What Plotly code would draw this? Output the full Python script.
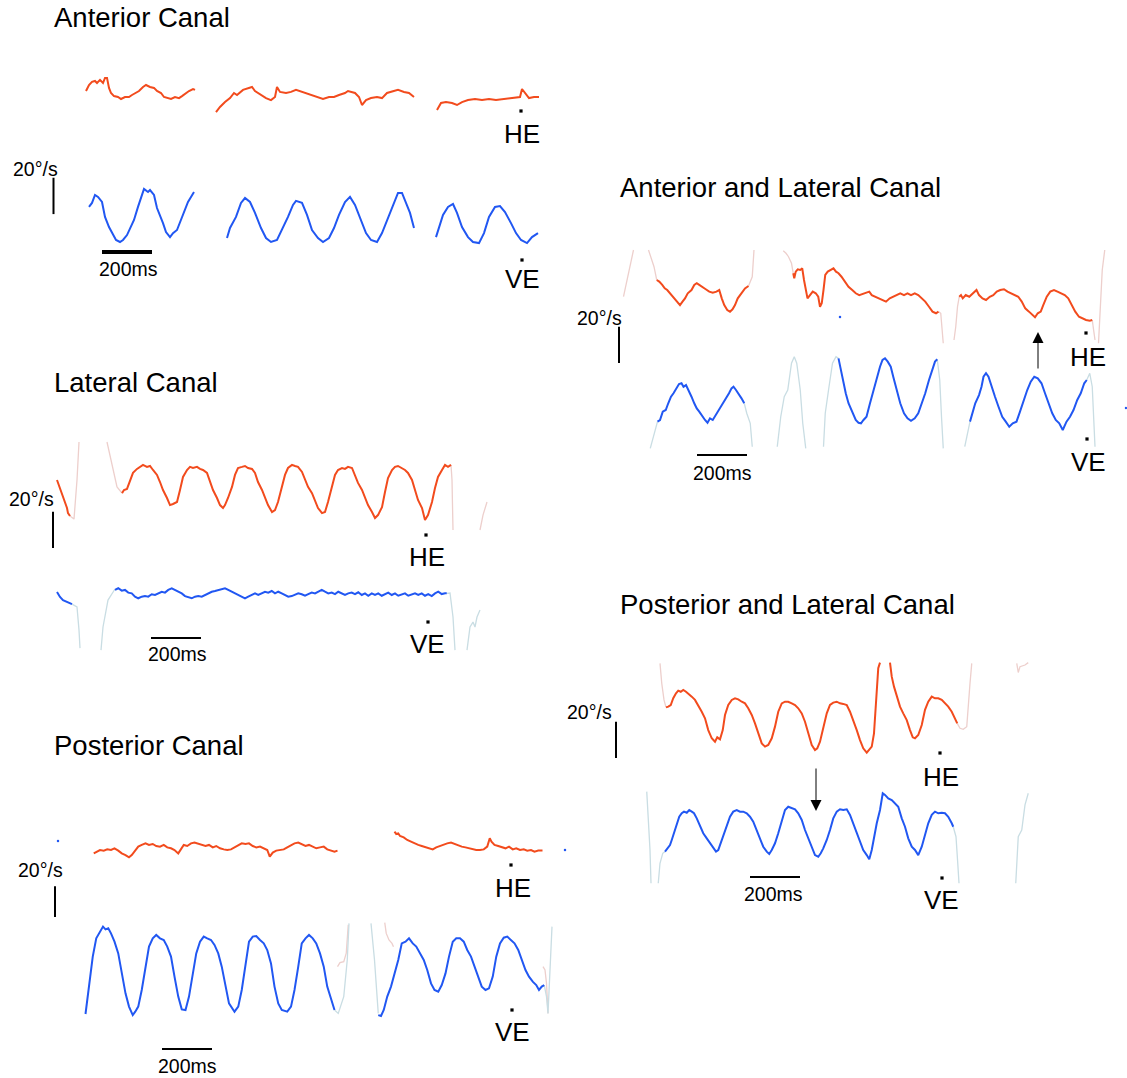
import plotly.graph_objects as go

W, H = 1127, 1078
FONT = "Liberation Sans, Arial, Helvetica, sans-serif"
HE_COL = "#F24B1D"
VE_COL = "#2157F2"
HE_PALE = "#EDCFCC"
VE_PALE = "#C9DDE3"

# ---------------- data: time (ms) and eye velocity (deg/s) ----------------
# Anterior Canal
ant_he_t = [
    [24, 36, 48, 60, 68, 80, 92, 100, 108, 116, 124, 136, 152, 164, 180, 196, 208, 224, 236, 252,
     264, 280, 296, 308, 324, 336, 352, 364, 380, 396, 408, 424, 436, 452, 460],
    [544, 560, 580, 600, 616, 628, 652, 672, 688, 700, 724, 744, 764, 780, 788, 800, 824, 844, 864, 888,
     908, 928, 952, 972, 996, 1016, 1036, 1060, 1072, 1088, 1100, 1116, 1128, 1144, 1164, 1188, 1208,
     1228, 1252, 1272, 1296, 1316, 1336],
    [1428, 1444, 1464, 1488, 1508, 1528, 1552, 1580, 1608, 1636, 1664, 1696, 1724, 1744, 1760, 1768,
     1780, 1796, 1816, 1836],
]
ant_he_v = [
    [2.2, 5.5, 7.2, 7.7, 6.6, 8.3, 6.6, 9.4, 9.4, 3.9, 1.1, -0.6, -1.1, -2.2, -1.1, -1.1, 0, 1.1, 2.2, 4.4,
     5.5, 4.4, 3.9, 2.2, 1.1, -1.1, -1.7, -2.2, -1.1, -1.7, -0.6, 1.1, 2.2, 3.3, 2.8],
    [-9.4, -6.6, -3.9, -1.7, 1.1, 0, 2.8, 3.9, 4.4, 2.2, 0, -1.7, -2.8, -1.1, 4.4, 1.7, 1.1, 1.7, 2.8, 1.7,
     1.1, 0, -1.1, -2.2, -1.1, -1.1, 0, 1.1, 2.2, 1.7, 1.1, -1.1, -5.5, -2.8, -1.7, -1.1, -1.7,
     1.1, 2.2, 2.8, 1.7, 1.1, -1.1],
    [-8.3, -4.4, -3.9, -4.4, -5.5, -3.9, -2.8, -2.2, -2.8, -2.2, -2.8, -2.2, -1.7, -1.7, -1.1, 3.3,
     1.1, -1.7, -1.1, -1.1],
]
ant_ve_t = [
    [36, 48, 60, 72, 88, 100, 116, 128, 144, 160, 172, 188, 200, 216, 232, 244, 256, 272, 280, 296,
     308, 332, 344, 360, 372, 388, 400, 416, 432, 444, 456],
    [588, 600, 624, 644, 660, 680, 700, 724, 744, 764, 788, 808, 832, 852, 864, 888, 908, 928, 952, 972,
     996, 1016, 1036, 1060, 1080, 1100, 1124, 1144, 1164, 1188, 1208, 1228, 1252, 1272, 1288, 1300,
     1320, 1336],
    [1424, 1436, 1452, 1472, 1492, 1508, 1528, 1552, 1572, 1596, 1616, 1636, 1660, 1680, 1700, 1724,
     1744, 1764, 1788, 1808, 1832],
]
ant_ve_v = [
    [6.1, 8.3, 12.7, 11.6, 8.8, 0.6, -5.0, -8.3, -12.1, -13.2, -12.1, -9.4, -5.5, -1.1, 6.1, 11.6, 16.0,
     14.3, 15.4, 12.7, 5.5, -2.8, -7.7, -10.5, -8.3, -6.6, -2.2, 2.8, 8.8, 11.6, 14.3],
    [-11.0, -5.5, 0.6, 8.3, 11.0, 8.8, 2.8, -5.5, -11.0, -13.2, -12.1, -6.6, 0.6, 7.2, 9.4, 8.3, 1.7,
     -6.6, -11.0, -13.2, -11.0, -5.5, 1.7, 8.8, 11.6, 7.2, -1.1, -8.3, -12.1, -13.2, -8.3, -1.1, 7.2,
     13.8, 13.8, 9.9, 2.8, -5.5],
    [-10.5, -5.0, 1.7, 6.1, 7.7, 2.8, -5.0, -10.5, -13.2, -13.8, -8.3, 0.6, 6.1, 6.6, 3.3, -2.8, -8.3,
     -12.1, -13.8, -10.5, -8.3],
]

# Lateral Canal
lat_he_t = [
    [-92, -80, -68, -52, -48, -40],
    [168, 176, 188, 200, 212, 228, 240, 252, 268, 280, 292, 308, 320, 332, 348, 360, 372, 388, 400, 412,
     428, 440, 452, 468, 480, 492, 508, 520, 532, 548, 560, 572, 580, 592, 608, 620, 632, 648, 660, 672,
     688, 700, 712, 728, 740, 752, 768, 780, 792, 808, 820, 832, 848, 860, 872, 888, 900, 912, 928, 940,
     952, 968, 980, 992, 1008, 1020, 1032, 1048, 1060, 1072, 1088, 1100, 1112, 1128, 1140, 1152, 1168,
     1180, 1192, 1208, 1220, 1232, 1248, 1260, 1272, 1288, 1300, 1312, 1328, 1340, 1352, 1368, 1380,
     1392, 1408, 1420, 1432, 1448, 1460, 1472, 1484],
]
lat_he_v = [
    [5.5, 1.1, -4.4, -9.9, -12.7, -14.3],
    [-1.7, 0, 0.6, 5.5, 9.4, 11.6, 12.7, 13.8, 12.7, 13.2, 11.0, 8.3, 4.4, 0, -4.4, -8.3, -7.7, -6.6, 0, 7.2,
     11.0, 12.7, 12.1, 12.7, 11.6, 11.0, 9.4, 4.4, 0, -4.4, -8.3, -9.9, -8.3, -4.4, 1.7, 8.3, 12.1, 12.7,
     13.2, 12.1, 11.6, 9.4, 4.4, 0, -4.4, -8.3, -12.1, -11.0, -6.6, 1.1, 8.3, 12.1, 13.8, 13.2, 12.7, 9.9,
     5.5, 1.7, -1.7, -5.5, -9.9, -12.7, -12.1, -6.6, 1.7, 8.3, 11.0, 12.1, 11.6, 12.7, 12.1, 8.3, 3.9, 0,
     -3.9, -8.3, -12.1, -15.4, -13.8, -9.4, -1.1, 6.6, 11.0, 12.7, 13.2, 12.1, 11.0, 9.4, 5.5, 0, -5.5,
     -9.9, -16.5, -13.8, -6.6, 1.1, 7.2, 11.0, 13.8, 12.7, 13.8],
]
lat_he_fast_t = [[-40, -24, -12, -4], [108, 128, 148, 168], [1484, 1488, 1492], [1600, 1612, 1628]]
lat_he_fast_v = [[-14.3, -16.0, 5.5, 26.4], [26.4, 14.9, 1.7, -1.7], [13.8, 5.5, -22.0], [-22.0, -13.8, -6.6]]
lat_ve_t = [
    [-92, -80, -68, -52, -40, -32],
    [140, 153, 167, 180, 193, 207, 220, 233, 247, 260, 273, 287, 300, 313, 327, 340, 353, 367, 380, 393,
     407, 420, 433, 447, 460, 473, 487, 500, 513, 527, 540, 553, 567, 580, 593, 607, 620, 633, 647, 660,
     673, 687, 700, 713, 727, 740, 753, 767, 780, 793, 807, 820, 833, 847, 860, 873, 887, 900, 913, 927,
     940, 953, 967, 980, 993, 1007, 1020, 1033, 1047, 1060, 1073, 1087, 1100, 1113, 1127, 1140, 1153,
     1167, 1180, 1193, 1207, 1220, 1233, 1247, 1260, 1273, 1287, 1300, 1313, 1327, 1340, 1353, 1367,
     1380, 1393, 1407, 1420, 1433, 1447, 1460, 1467],
]
lat_ve_v = [
    [0.6, -2.2, -3.9, -5.0, -5.5, -6.1],
    [1.7, 2.6, 1.3, 1.7, 0.2, -0.2, -2.0, -2.9, -2.0, -1.7, -2.0, -0.7, -1.1, -0.2, 0.7, 0.2, 1.7, 2.6, 1.7,
     0.7, -0.2, -1.7, -2.4, -2.9, -2.0, -1.7, -2.0, -1.1, -0.2, 0.7, 1.1, 1.7, 2.0, 2.6, 1.7, 0.7, -0.2,
     -1.1, -2.0, -2.9, -2.0, -1.1, -0.2, -1.1, -0.2, 0.7, 0.2, 1.1, -0.2, 0.7, -0.2, -1.1, -2.0, -1.7, -1.1,
     -0.2, -0.7, -1.5, -0.6, 0.2, -0.2, 0.7, 1.7, 0.7, -0.2, 0.2, -0.6, 0.7, -0.2, -1.1, -0.2, 0.2, -0.6,
     0.4, -1.1, -0.2, -1.5, -0.2, -1.1, -0.2, -1.5, -0.6, 0.2, -1.1, -0.2, -1.5, -0.7, -0.2, -1.5, -0.6,
     -0.2, -1.1, -0.2, -1.5, -0.6, -1.7, -0.2, 0.7, -0.6, -0.2, -0.2],
]
lat_ve_fast_t = [[-32, -12, -4, 0], [84, 92, 112, 140], [1467, 1480, 1492, 1500],
                 [1548, 1560, 1572, 1580, 1588, 1600]]
lat_ve_fast_v = [[-6.1, -7.7, -20.4, -30.3], [-31.4, -18.7, -3.9, 2.2], [-0.2, 0, -13.2, -31.4],
                 [-31.4, -18.7, -16.0, -18.7, -13.2, -9.4]]

# Posterior Canal
post_he_t = [
    [55, 65, 80, 95, 109, 124, 138, 153, 167, 182, 196, 207, 218, 233, 247, 262, 276, 291, 305, 320,
     335, 349, 364, 378, 393, 403, 415, 429, 444, 458, 473, 487, 502, 516, 531, 545, 560, 575, 589, 604,
     618, 633, 647, 662, 676, 691, 705, 720, 735, 749, 759, 771, 785, 800, 815, 829, 844, 858, 873, 887,
     902, 916, 931, 945, 960, 975, 989, 1004, 1018, 1030],
    [1258, 1265, 1273, 1280, 1295, 1309, 1324, 1338, 1353, 1367, 1382, 1396, 1411, 1425, 1440, 1455,
     1469, 1484, 1498, 1513, 1527, 1542, 1556, 1571, 1585, 1600, 1615, 1629, 1639, 1646, 1658, 1673,
     1687, 1702, 1716, 1731, 1745, 1760, 1775, 1789, 1804, 1818, 1833, 1850],
]
post_he_v = [
    [-3.5, -2.4, -1.3, -1.7, -0.9, -1.3, -0.2, -1.7, -3.5, -4.6, -6.1, -4.6, -2.4, 0.9, 2.0, 3.0, 2.0, 2.6,
     1.3, 0.9, 2.0, 0.4, -0.2, -1.3, -3.5, -0.9, 2.0, 1.3, 3.0, 3.5, 2.6, 2.0, 1.3, 2.0, 0.4, 1.3, -0.2,
     -0.9, -1.3, -0.9, 0.4, 2.0, 3.0, 2.6, 3.0, 1.3, 0.4, 0.9, -0.2, -1.3, -5.6, -3.0, -1.7, -1.3, -0.9,
     0.4, 2.0, 3.0, 3.5, 2.6, 1.3, 2.0, 0.9, -0.2, 0.4, 0.9, -0.9, -1.7, -2.4, -1.7],
    [10.6, 9.1, 9.5, 7.8, 6.9, 5.2, 4.1, 3.0, 2.0, 1.3, 0.4, -0.2, -0.9, 0.4, 1.3, 2.6, 3.0, 3.5, 2.6, 2.0,
     0.9, 0.4, -0.2, -0.9, -1.3, -1.3, -0.9, 0.9, 6.3, 4.1, 2.0, 1.3, 0.4, -0.2, 0.9, -0.9, -0.2, -1.3,
     -0.9, -1.7, -1.3, -2.4, -1.7, -1.7],
]
post_he_fast_t = [[1030, 1040, 1055, 1065, 1073], [1219, 1225, 1236, 1248, 1254], [1852, 1860, 1866, 1872]]
post_he_fast_v = [[-77.1, -74.5, -73.9, -68.3, -50.0], [-48.5, -55.5, -59.8, -62.0, -64.2],
                  [-77.1, -79.3, -88.0, -107.5]]
post_ve_t = [
    [22, 36, 51, 65, 80, 92, 102, 113, 124, 138, 153, 167, 182, 196, 211, 221, 233, 247, 262, 276,
     291, 305, 320, 335, 349, 364, 378, 393, 407, 422, 436, 451, 465, 480, 495, 509, 524, 538, 553, 567,
     582, 596, 618, 633, 647, 662, 676, 691, 705, 720, 735, 749, 764, 778, 793, 807, 829, 844, 858, 873,
     887, 902, 916, 931, 945, 960, 975, 989, 1004, 1018],
    [1193, 1204, 1215, 1229, 1244, 1258, 1273, 1287, 1302, 1316, 1331, 1345, 1360, 1375, 1389, 1404,
     1418, 1433, 1447, 1462, 1476, 1491, 1505, 1520, 1535, 1549, 1564, 1578, 1593, 1607, 1622, 1636,
     1651, 1665, 1680, 1695, 1709, 1724, 1738, 1753, 1767, 1782, 1796, 1811, 1825, 1836, 1847, 1857],
]
post_ve_v = [
    [-35.1, -15.2, 2.2, 14.1, 18.4, 21.7, 19.9, 20.6, 17.3, 11.9, 4.3, -8.7, -21.7, -30.3, -35.8, -33.6,
     -30.3, -19.5, -4.3, 8.7, 14.1, 16.3, 14.1, 13.0, 8.7, 2.2, -10.8, -23.8, -32.1, -32.5, -23.8, -8.7,
     4.3, 11.9, 15.2, 14.1, 13.0, 9.8, 4.3, -4.3, -17.3, -28.2, -33.6, -30.3, -19.5, -2.2, 11.9, 15.2, 15.6,
     13.0, 10.8, 6.5, -2.2, -17.3, -28.2, -32.5, -33.6, -30.3, -19.5, -4.3, 10.8, 14.1, 16.3, 14.1, 10.8,
     4.3, -4.3, -17.3, -26.0, -32.5],
    [-35.8, -36.4, -32.5, -23.8, -17.3, -8.7, 0, 10.8, 11.9, 14.1, 10.8, 8.7, 4.3, 0, -6.5, -15.2, -19.5,
     -20.6, -16.3, -8.7, 2.2, 11.9, 14.1, 14.1, 11.9, 6.5, 2.2, -4.3, -10.8, -17.3, -19.5, -18.4, -10.8,
     2.2, 10.8, 14.5, 15.2, 13.0, 10.8, 6.5, 0, -6.5, -10.8, -14.1, -16.3, -19.5, -17.3, -16.3],
]
post_ve_fast_t = [[1018, 1033, 1055, 1069, 1076], [1164, 1178, 1193], [1857, 1866, 1872, 1880, 1888]]
post_ve_fast_v = [[-32.5, -34.7, -23.8, 0, 23.8], [23.8, 0, -34.7], [-16.3, -23.8, -34.7, 0, 21.7]]
post_specks_t = [-88, 1940]
post_specks_v = [4.6, -1.3]

# Anterior and Lateral Canal
al_he_t = [
    [27, 37, 49, 59, 69, 80, 94, 109, 120, 130, 140, 151, 166, 177, 187, 197, 209, 223, 237, 251,
     266, 277, 287, 297, 309, 320, 330, 340, 351, 366, 380, 394],
    [573, 577, 583, 591, 601, 609, 616, 623, 630, 640, 651, 663, 673, 680, 687, 694, 701, 711, 723, 734,
     744, 754, 766, 780, 794, 809, 823, 837, 851, 866, 877, 887, 901, 916, 930, 944, 959, 973, 987, 1001,
     1016, 1030, 1044, 1059, 1073, 1087, 1101, 1116, 1130, 1144, 1154],
    [1237, 1244, 1251, 1263, 1277, 1291, 1306, 1316, 1330, 1344, 1359, 1373, 1387, 1401, 1416, 1430,
     1444, 1459, 1473, 1487, 1501, 1516, 1530, 1540, 1551, 1563, 1573, 1587, 1601, 1616, 1630, 1644,
     1659, 1673, 1687, 1701, 1716, 1730, 1744, 1759, 1769],
]
al_he_v = [
    [5.5, 4.6, 2.8, 0.9, 0, -1.8, -3.7, -6.4, -8.3, -6.4, -4.6, -1.8, 0, 2.8, 3.7, 2.8, 1.5, 0.4, -0.9, -1.5,
     -0.9, 0, -4.6, -8.3, -11.0, -11.9, -10.6, -8.3, -4.6, -1.8, 0.9, 2.2],
    [9.2, 6.4, 10.1, 11.4, 11.0, 11.9, 5.5, -0.9, -4.6, -2.8, -0.9, -1.8, -3.7, -9.2, -7.3, 0, 8.3, 10.1,
     11.0, 11.9, 10.1, 9.2, 7.3, 4.6, 1.8, 0, -1.8, -2.8, -2.2, -1.8, -0.9, -2.8, -3.7, -4.6, -5.5, -6.4,
     -4.6, -3.7, -2.8, -1.8, -2.8, -1.8, -2.8, -1.8, -2.8, -4.6, -6.4, -9.2, -11.9, -12.8, -11.9],
    [-3.7, -2.8, -4.6, -2.8, -3.7, -1.8, 0, -2.8, -4.6, -5.5, -3.7, -2.8, -0.9, 0, 0.4, -0.9, -1.8, -2.8,
     -3.7, -6.4, -10.1, -11.9, -13.8, -15.0, -12.8, -11.9, -8.3, -3.7, -0.9, 0, -0.9, -1.8, -2.8, -4.6,
     -8.3, -11.9, -14.7, -15.6, -16.5, -16.9, -16.5],
]
al_he_fast_t = [[-106, -91, -77, -66], [-6, 16, 27], [394, 409, 416], [533, 544, 554, 566, 573],
                [1154, 1163, 1173], [1216, 1223, 1230, 1237], [1769, 1776, 1780], [1794, 1801, 1809, 1819]]
al_he_fast_v = [[-3.7, 5.5, 14.7, 22.0], [22.0, 12.8, 5.5], [2.2, 7.3, 22.0], [21.6, 20.2, 18.3, 14.7, 9.2],
                [-11.9, -12.8, -29.3], [-27.5, -20.2, -9.2, -3.7], [-16.5, -22.0, -27.5],
                [-29.3, -12.8, 11.0, 22.0]]
al_ve_t = [
    [30, 40, 51, 63, 73, 84, 94, 106, 116, 126, 134, 144, 154, 166, 177, 187, 197, 209, 220, 230,
     240, 251, 263, 273, 283, 294, 306, 316, 326, 334, 344, 354, 366, 377],
    [754, 763, 773, 783, 794, 809, 823, 834, 844, 854, 866, 880, 894, 909, 920, 930, 940, 951, 963, 973,
     987, 1001, 1016, 1030, 1044, 1059, 1073, 1087, 1101, 1116, 1130, 1140, 1149],
    [1280, 1291, 1301, 1316, 1326, 1334, 1344, 1354, 1366, 1380, 1394, 1409, 1423, 1437, 1451, 1466,
     1480, 1494, 1509, 1523, 1537, 1551, 1566, 1580, 1594, 1609, 1623, 1637, 1651, 1666, 1680, 1694,
     1709, 1723, 1737, 1747],
]
al_ve_v = [
    [-22.9, -22.0, -17.4, -16.5, -12.8, -9.2, -7.3, -4.6, -2.2, -1.8, -3.7, -2.8, -5.5, -9.2, -12.8, -15.6,
     -17.4, -20.2, -22.0, -23.5, -21.1, -22.0, -19.3, -17.4, -14.7, -11.9, -9.2, -7.3, -4.6, -3.7, -5.5,
     -7.3, -10.1, -12.8],
    [11.9, 5.5, -1.8, -7.3, -12.8, -17.4, -22.0, -23.5, -23.8, -22.0, -20.2, -12.8, -5.5, 1.8, 7.3, 11.0,
     11.9, 10.1, 7.3, 1.8, -5.5, -12.8, -18.3, -21.1, -22.4, -21.1, -18.3, -12.8, -7.3, 0, 5.5, 10.1, 11.4],
    [-22.9, -17.4, -12.8, -8.3, -3.7, 1.8, 3.7, 1.8, -3.7, -9.2, -14.7, -20.2, -22.9, -25.7, -23.8, -22.9,
     -17.4, -11.0, -5.5, -0.9, 1.8, 0.9, -1.8, -7.3, -12.8, -18.3, -22.0, -23.8, -27.5, -22.9, -20.2,
     -16.5, -11.0, -7.3, -1.8, 0],
]
al_ve_fast_t = [[1, 16, 30], [377, 387, 401, 409], [509, 523, 537, 551, 566, 577, 587, 601, 611, 623],
                [694, 701, 716, 730, 744, 754], [1149, 1159, 1166, 1173], [1259, 1269, 1280],
                [1747, 1759, 1769, 1773, 1780]]
al_ve_fast_v = [[-37.6, -29.3, -22.9], [-12.8, -18.3, -23.8, -36.7],
                [-36.7, -20.2, -9.2, -5.5, 9.2, 12.8, 9.2, -5.5, -23.8, -37.6],
                [-36.7, -18.3, -3.7, 9.2, 12.8, 11.9], [11.4, 0, -20.2, -37.6], [-36.7, -29.3, -22.9],
                [0, 3.7, -3.7, -20.2, -36.7]]
al_specks_t = [760, 1904]
al_specks_v = [-14.9, -64.9]

# Posterior and Lateral Canal
pl_he_t = [
    [64, 73, 83, 93, 104, 113, 123, 133, 144, 153, 167, 180, 193, 207, 220, 233, 247, 260, 269, 280,
     291, 300, 313, 327, 340, 353, 367, 380, 393, 407, 420, 433, 447, 460, 473, 487, 500, 513, 527, 540,
     553, 567, 580, 593, 607, 620, 633, 647, 660, 669, 680, 693, 707, 720, 733, 747, 760, 773, 787, 800,
     813, 827, 840, 853, 867, 877, 887, 896, 904, 913, 920],
    [960, 967, 976, 987, 1000, 1013, 1027, 1040, 1051, 1060, 1073, 1087, 1100, 1113, 1127, 1140, 1153,
     1167, 1180, 1193, 1207, 1220, 1229],
]
pl_he_v = [
    [4.2, 4.6, 5.5, 9.2, 11.9, 13.4, 12.8, 13.8, 12.8, 11.9, 10.1, 8.3, 5.5, 1.8, -1.8, -8.3, -12.8, -14.7,
     -12.3, -13.4, -8.3, 0, 5.5, 8.3, 9.2, 8.6, 7.3, 6.4, 3.7, 0, -4.6, -10.1, -15.6, -17.4, -16.5, -12.8,
     -6.4, 1.8, 6.4, 7.3, 7.3, 6.4, 5.5, 3.7, 0.9, -3.7, -10.1, -16.5, -19.3, -18.3, -14.7, -7.3, 0.9, 5.5,
     6.8, 7.3, 6.4, 6.1, 5.5, 1.8, -2.8, -8.3, -13.8, -18.3, -20.7, -19.3, -17.4, -10.1, 8.3, 25.7, 28.8],
    [28.8, 21.1, 15.6, 10.1, 4.6, 0.9, -2.8, -8.3, -12.3, -12.8, -11.0, -5.5, 2.8, 7.3, 10.1, 9.2, 9.2,
     8.3, 6.4, 4.6, 1.8, -1.8, -4.6],
]
pl_he_fast_t = [[40, 47, 56, 64], [1229, 1240, 1253, 1267, 1280, 1287], [1467, 1473, 1480, 1500, 1513]]
pl_he_fast_v = [[28.4, 17.4, 8.3, 4.2], [-4.6, -7.3, -7.9, -6.4, 17.4, 28.4], [28.4, 23.4, 26.6, 27.5, 28.8]]
pl_ve_t = [
    [60, 69, 80, 87, 96, 107, 117, 127, 136, 147, 157, 167, 176, 187, 200, 213, 227, 240, 253, 264,
     273, 283, 293, 307, 320, 333, 347, 360, 373, 387, 400, 413, 427, 440, 453, 467, 477, 487, 500, 513,
     527, 540, 553, 567, 580, 593, 607, 620, 633, 647, 660, 673, 683, 693, 707, 720, 733, 747, 760, 773,
     787, 800, 813, 827, 840, 853, 867, 877, 887, 896, 907, 920, 931, 940, 953, 967, 980, 993, 1007, 1020,
     1033, 1047, 1060, 1073, 1087, 1100, 1113, 1127, 1140, 1153, 1167, 1180, 1193, 1207, 1213],
]
pl_ve_v = [
    [-17.4, -15.6, -13.8, -11.0, -7.3, -1.8, 1.8, 3.7, 4.6, 4.0, 5.5, 4.6, 3.7, 0.9, -2.8, -7.3, -10.1,
     -12.8, -15.6, -17.4, -16.5, -12.8, -8.3, -2.8, 1.8, 4.6, 5.5, 4.6, 4.6, 3.7, 1.8, -0.9, -5.5, -10.1,
     -14.7, -17.4, -18.7, -16.5, -12.8, -7.3, -0.9, 5.5, 7.3, 6.4, 5.9, 3.7, 0, -5.5, -10.1, -14.7, -19.3,
     -20.2, -18.3, -15.6, -11.0, -5.5, 0.9, 4.6, 5.9, 5.5, 5.9, 2.8, -1.8, -6.4, -11.0, -16.5, -19.3,
     -21.6, -16.5, -9.2, -1.8, 5.5, 14.7, 13.8, 11.9, 11.0, 9.2, 7.3, 0.9, -3.7, -10.1, -14.7, -16.5,
     -19.3, -14.7, -8.3, -1.8, 2.8, 4.6, 3.7, 4.0, 3.7, 1.8, -1.8, -3.7],
]
pl_ve_fast_t = [[-13, -7, 0, 4], [33, 40, 51, 60], [1213, 1224, 1231, 1236], [1463, 1467, 1473, 1487, 1500, 1513]]
pl_ve_fast_v = [[15.6, 1.8, -16.5, -34.8], [-34.8, -23.8, -18.3, -17.4], [-3.7, -9.2, -23.8, -34.8],
                [-34.8, -20.2, -9.2, -5.5, 8.3, 14.7]]

# ---------------- layout constants (pixel geometry of each panel) ----------------
panels = {
    "A": dict(x0=80, he=95, ve=218, ms=4.0, deg=0.55),
    "B": dict(x0=80, he=490, ve=593, ms=4.0, deg=0.55),
    "C": dict(x0=80, he=848, ve=960, ms=4.0, deg=0.65),
    "D": dict(x0=650, he=290, ve=380, ms=4.0, deg=0.55),
    "E": dict(x0=650, he=715, ve=820, ms=4.0, deg=0.55),
}
order = ["A", "B", "C", "D", "E"]

fig = go.Figure()
axes = {}
for i, k in enumerate(order, start=1):
    p = panels[k]
    sfx = "" if i == 1 else str(i)
    xr = [-p["x0"] * p["ms"], (W - p["x0"]) * p["ms"]]
    yr = [-(H - p["he"]) * p["deg"], p["he"] * p["deg"]]
    xa = dict(domain=[0, 1], range=xr, visible=False, fixedrange=True, anchor="y" + sfx)
    ya = dict(domain=[0, 1], range=yr, visible=False, fixedrange=True, anchor="x" + sfx)
    if i > 1:
        xa["overlaying"] = "x"
        ya["overlaying"] = "y"
    axes["xaxis" + sfx] = xa
    axes["yaxis" + sfx] = ya
    p["xa"] = "x" + sfx
    p["ya"] = "y" + sfx
    p["ve_off"] = -(p["ve"] - p["he"]) * p["deg"]


def add(k, segs_t, segs_v, color, width, ve=False):
    p = panels[k]
    off = p["ve_off"] if ve else 0.0
    xs, ys = [], []
    for t, v in zip(segs_t, segs_v):
        n = min(len(t), len(v))
        xs += list(t[:n]) + [None]
        ys += [vv + off for vv in v[:n]] + [None]
    fig.add_trace(go.Scatter(x=xs, y=ys, mode="lines", line=dict(color=color, width=width),
                             xaxis=p["xa"], yaxis=p["ya"], hoverinfo="skip", showlegend=False))


def specks(k, t, v):
    p = panels[k]
    fig.add_trace(go.Scatter(x=t, y=v, mode="markers", marker=dict(color=VE_COL, size=2.5),
                             xaxis=p["xa"], yaxis=p["ya"], hoverinfo="skip", showlegend=False))


PW = 1.3
LW = 2.0
add("B", lat_he_fast_t, lat_he_fast_v, HE_PALE, PW)
add("B", lat_ve_fast_t, lat_ve_fast_v, VE_PALE, PW, ve=True)
add("C", post_he_fast_t, post_he_fast_v, HE_PALE, PW)
add("C", post_ve_fast_t, post_ve_fast_v, VE_PALE, PW, ve=True)
add("D", al_he_fast_t, al_he_fast_v, HE_PALE, PW)
add("D", al_ve_fast_t, al_ve_fast_v, VE_PALE, PW, ve=True)
add("E", pl_he_fast_t, pl_he_fast_v, HE_PALE, PW)
add("E", pl_ve_fast_t, pl_ve_fast_v, VE_PALE, PW, ve=True)

add("A", ant_he_t, ant_he_v, HE_COL, LW)
add("A", ant_ve_t, ant_ve_v, VE_COL, LW, ve=True)
add("B", lat_he_t, lat_he_v, HE_COL, LW)
add("B", lat_ve_t, lat_ve_v, VE_COL, LW, ve=True)
add("C", post_he_t, post_he_v, HE_COL, LW)
add("C", post_ve_t, post_ve_v, VE_COL, LW, ve=True)
add("D", al_he_t, al_he_v, HE_COL, LW)
add("D", al_ve_t, al_ve_v, VE_COL, LW, ve=True)
add("E", pl_he_t, pl_he_v, HE_COL, LW)
add("E", pl_ve_t, pl_ve_v, VE_COL, LW, ve=True)
specks("C", post_specks_t, post_specks_v)
specks("D", al_specks_t, al_specks_v)

shapes = []
annotations = []

# scale bars: 20 deg/s vertical, 200 ms horizontal (data units of each panel)
bars = {
    "A": dict(vt=-106, vv=-65.5, ht=88, hv=-86.4, hw=4),
    "B": dict(vt=-108, vv=-31.9, ht=284, hv=-81.4, hw=2),
    "C": dict(vt=-100, vv=-44.9, ht=328, hv=-130.7, hw=2),
    "D": dict(vt=-124, vv=-40.2, ht=188, hv=-90.8, hw=2),
    "E": dict(vt=-136, vv=-23.65, ht=400, hv=-89.1, hw=2),
}
for k, b in bars.items():
    p = panels[k]
    shapes.append(dict(type="line", xref=p["xa"], yref=p["ya"], x0=b["vt"], x1=b["vt"],
                       y0=b["vv"], y1=b["vv"] + 20, line=dict(color="black", width=2)))
    shapes.append(dict(type="line", xref=p["xa"], yref=p["ya"], x0=b["ht"], x1=b["ht"] + 200,
                       y0=b["hv"], y1=b["hv"], line=dict(color="black", width=b["hw"])))


def px(x, y):
    return x / W, 1 - y / H


def text(s, x, y, size, anchor="center"):
    xp, yp = px(x, y)
    annotations.append(dict(text=s, x=xp, y=yp, xref="paper", yref="paper", showarrow=False,
                            xanchor=anchor, yanchor="middle", font=dict(family=FONT, size=size, color="black")))


def dot(x, y):
    x0, y0 = px(x - 1.6, y - 1.6)
    x1, y1 = px(x + 1.6, y + 1.6)
    shapes.append(dict(type="rect", xref="paper", yref="paper", x0=x0, x1=x1, y0=y0, y1=y1,
                       fillcolor="black", line=dict(width=0)))


titles = [("Anterior Canal", 52, 18), ("Lateral Canal", 52, 383), ("Posterior Canal", 52, 745),
          ("Anterior and Lateral Canal", 618, 188), ("Posterior and Lateral Canal", 618, 604)]
for s, x, y in titles:
    text(s, x, y, 27.5, anchor="left")

for x, y in [(35, 169), (31, 499), (40, 870), (599, 318), (589, 712)]:
    text("20°/s", x, y, 19.5)
for x, y in [(128, 269), (177, 654), (187, 1066), (722, 473), (773, 894)]:
    text("200ms", x, y, 19.5)
for x, y in [(522, 134), (427, 557), (513, 888), (1088, 357), (941, 777)]:
    text("HE", x, y, 26)
for x, y in [(522, 279), (427, 644), (512, 1032), (1088, 462), (941, 900)]:
    text("VE", x, y, 26)
for x, y in [(521, 111), (426, 535), (511, 865), (1086, 333), (940, 753),
             (522, 260), (428, 622), (512, 1010), (1087, 439), (942, 878)]:
    dot(x, y)

# arrows (tip, tail) in panel data units
for k, tt, vtip, vtail in [("D", 1552, -23.1, -44.0), ("E", 664, -52.8, -28.6)]:
    p = panels[k]
    annotations.append(dict(x=tt, y=vtip, ax=tt, ay=vtail, xref=p["xa"], yref=p["ya"],
                            axref=p["xa"], ayref=p["ya"], text="", showarrow=True,
                            arrowhead=2, arrowsize=2.2, arrowwidth=1, arrowcolor="black"))

fig.update_layout(width=W, height=H, margin=dict(l=0, r=0, t=0, b=0), autosize=False,
                  paper_bgcolor="white", plot_bgcolor="white", showlegend=False,
                  shapes=shapes, annotations=annotations, **axes)
fig.write_html("out.html")
